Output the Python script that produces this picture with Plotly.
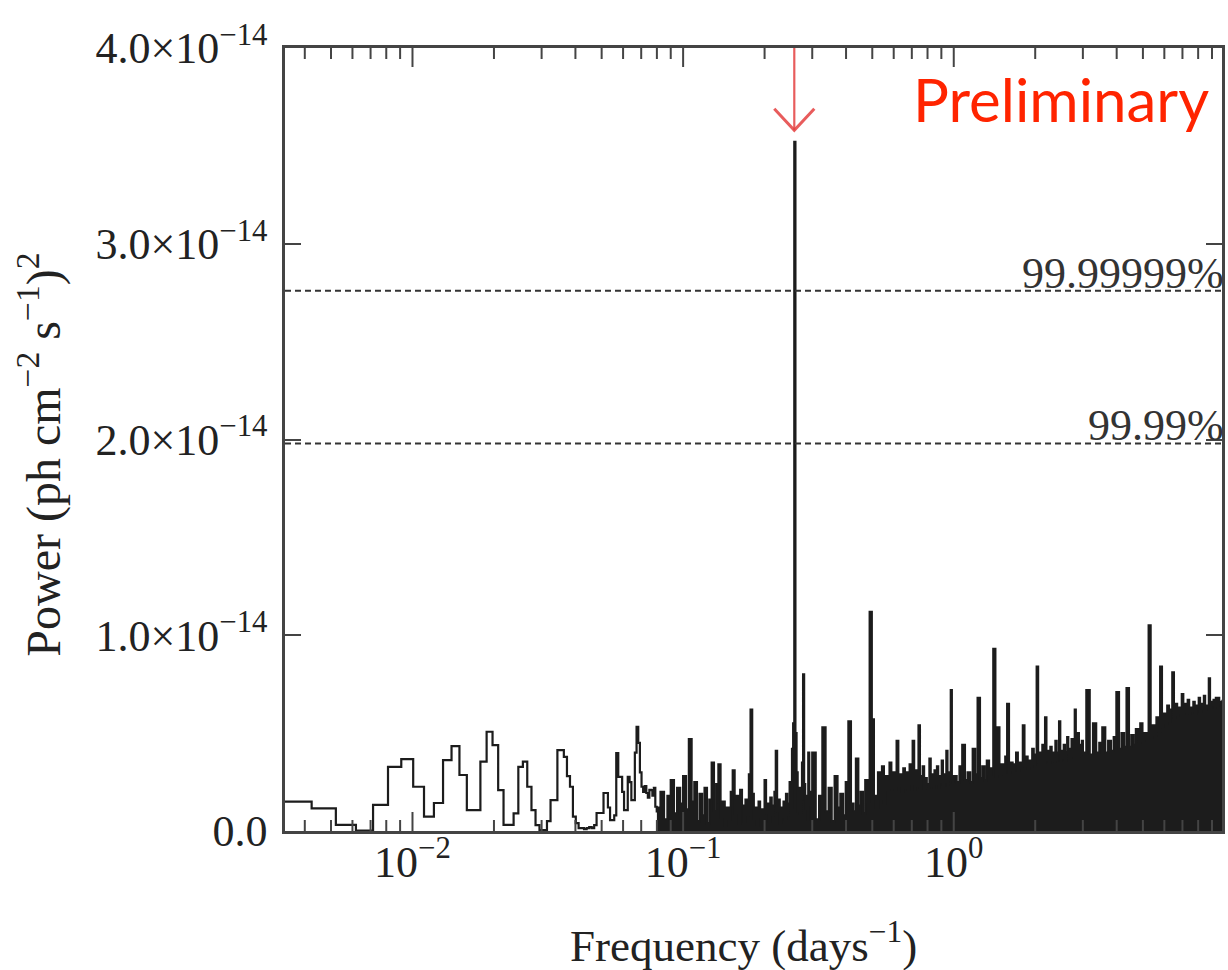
import numpy as np
import plotly.graph_objects as go

# Periodogram power, units of 1e-15 (ph cm^-2 s^-1)^2, on evenly spaced
# frequency bands: (start frequency [1/day], bin width [1/day], powers)
BAND_A_START, BAND_A_STEP = 0.00327, 0.00097
BAND_A = [1.5, 1.16, 0.31, 0.02, 1.33, 3.28, 3.67, 2.26, 0.73, 1.43,
          3.62, 4.34, 2.86, 1.07, 1.07, 3.54, 5.07, 4.39, 2.09, 0.31,
          0.31, 0.9, 3.28, 3.54, 2.26, 1.07, 0.3, 0.05, 0.05, 0.5,
          1.58, 1.58, 4.13, 4.13, 3.79, 2.8, 2.26, 0.73, 0.4, 0.15,
          0.15, 0.1, 0.15, 0.2, 0.15, 0.3, 0.92, 0.92, 0.92, 1.94,
          1.94, 1.2, 0.56, 0.56, 0.8, 3.98, 2.77, 2.77, 2.0, 1.07,
          1.07, 2.77, 2.5, 1.58, 1.58, 4.0, 5.32, 4.5, 3.0, 2.26,
          2.0, 2.3, 1.94, 1.7, 2.1, 2.09, 1.8, 2.2, 1.24, 1.0]

BAND_B_START, BAND_B_STEP = 0.080, 0.0025
BAND_B = [1.2, 2.0, 0.6, 1.8, 2.6, 0.9, 2.2, 1.4, 2.8, 1.1,
          4.7, 1.5, 2.5, 0.5, 1.9, 0.8, 2.2, 0.4, 1.6, 3.5,
          1.0, 2.4, 3.4, 0.7, 1.5, 0.3, 1.2, 0.6, 2.0, 3.1,
          0.9, 1.8, 0.4, 2.1, 1.3, 0.5, 1.6, 0.8, 2.9, 6.2,
          1.9, 0.6, 1.2, 0.3, 1.5, 0.7, 1.1, 0.4, 2.6, 0.9,
          1.4, 0.5, 1.7, 0.8, 1.3, 2.0, 4.1, 1.0, 1.6, 0.4,
          1.2, 0.7, 1.5, 0.6, 1.9, 0.8, 1.4, 2.5, 1.2, 4.2,
          5.5, 35.2, 5.0, 3.0, 1.0, 2.2, 0.9, 1.6, 3.5, 8.0,
          2.4, 1.1, 1.8, 0.6, 4.0, 1.3, 2.0, 0.7]

BAND_C_START, BAND_C_STEP = 0.300, 0.009
BAND_C = [4.0, 0.6, 1.8, 5.3, 1.0, 2.2, 0.5, 2.8, 1.2, 1.9,
          0.8, 2.5, 5.6, 1.4, 1.0, 3.7, 1.3, 2.0, 0.9, 2.6,
          1.5, 11.2, 5.7, 1.8, 1.2, 3.0, 1.6, 3.3, 1.4, 2.8,
          2.1, 3.5, 2.2, 3.0, 2.1, 4.6, 2.3, 2.9, 2.0, 3.2,
          2.2, 3.0, 2.1, 3.4, 2.4, 4.6, 2.1, 3.1, 2.3, 5.4,
          2.2, 2.8, 3.3, 2.1, 2.7, 2.4, 2.2, 3.7, 2.3, 2.9,
          2.2, 3.1, 2.4, 3.3, 2.2, 2.8, 2.5, 3.6, 2.3, 2.9,
          2.5, 4.1, 2.3, 3.0, 2.6, 7.2, 2.7, 2.5]

BAND_D_START, BAND_D_STEP = 1.00, 0.025
BAND_D = [2.8, 2.5, 3.3, 4.4, 2.6, 3.0, 2.5, 4.2, 2.9, 6.8,
          2.7, 3.3, 2.6, 3.6, 2.9, 3.2, 9.3, 2.8, 5.3, 2.9,
          3.4, 3.0, 3.8, 6.5, 3.0, 3.5, 3.1, 3.4, 4.0, 3.1,
          3.5, 3.2, 5.4, 3.3, 3.8, 3.2, 3.6, 3.3, 4.2, 3.4,
          3.9, 8.4, 3.5, 4.0, 3.5, 4.4, 3.5, 5.8, 3.6, 4.1,
          3.5, 4.3, 3.6, 4.0, 3.5, 4.6, 3.6, 4.0, 5.6, 3.6,
          4.1, 3.7, 4.4, 3.6, 4.0, 4.8, 3.7, 4.2, 3.7, 4.7,
          3.8, 4.3, 6.2, 3.8, 4.1, 5.0, 3.8, 4.4, 3.9, 4.6]

BAND_E_START, BAND_E_STEP = 3.00, 0.09
BAND_E = [4.0, 7.2, 3.9, 5.5, 4.0, 4.5, 5.3, 4.0, 4.6, 4.1,
          4.8, 7.1, 4.2, 5.0, 4.3, 7.3, 4.3, 4.9, 4.4, 5.2,
          4.5, 5.5, 4.6, 5.0, 4.7, 10.5, 4.8, 5.4, 4.9, 5.8,
          5.1, 8.4, 5.3, 6.0, 5.5, 6.4, 5.6, 6.2, 8.1, 5.8,
          6.5, 5.9, 6.3, 6.0, 7.0, 6.0, 6.5, 6.1, 6.7, 6.0,
          6.3, 6.1, 6.6, 6.0, 6.4, 6.2, 6.8, 6.1, 6.5, 6.2,
          6.9, 6.2, 6.4, 6.3, 7.8, 6.3, 6.6, 6.4, 6.7, 6.3,
          6.8, 6.4, 6.8, 6.5, 6.6, 6.4, 6.7]

# False-alarm significance levels, units of 1e-14
CONF_LEVELS = [2.76, 1.98]
CONF_LABELS = ["99.99999%", "99.99%"]

Y_TICKS = [0.0, 1.0, 2.0, 3.0, 4.0]          # units of 1e-14
X_MAJOR = [0.01, 0.1, 1.0]
X_MAJOR_TEXT = ["10<sup>−2</sup>", "10<sup>−1</sup>", "10<sup>0</sup>"]
X_MINOR = [m * d for d in (0.001, 0.01, 0.1, 1.0) for m in range(2, 10)]

bands = [(BAND_A_START, BAND_A_STEP, BAND_A),
         (BAND_B_START, BAND_B_STEP, BAND_B),
         (BAND_C_START, BAND_C_STEP, BAND_C),
         (BAND_D_START, BAND_D_STEP, BAND_D),
         (BAND_E_START, BAND_E_STEP, BAND_E)]

freq = np.concatenate([s + st * np.arange(len(v)) for s, st, v in bands])
power = np.concatenate([np.asarray(v, float) for _, _, v in bands]) * 1e-15

peak_i = int(np.argmax(power))
peak_f = freq[peak_i]

SERIF = "Liberation Serif, Times New Roman, serif"
INK = "#1c1c1c"
AXIS = "#444444"
F_MIN, F_MAX = 0.00338, 9.8
Y_MAX = 4.0e-14
PLOT_H_PX = 970 - 48 - 139

fig = go.Figure()

# the densely sampled part of the spectrum renders as a solid mass
dense = freq >= BAND_B_START
fig.add_trace(go.Scatter(
    x=freq[dense], y=power[dense], mode="lines", line_shape="hv",
    line=dict(width=0, color=INK), fill="tozeroy", fillcolor=INK,
    hoverinfo="skip", showlegend=False))

fig.add_trace(go.Scatter(
    x=freq, y=power, mode="lines", line_shape="hv",
    line=dict(width=2.2, color=INK), showlegend=False))

# significance levels
for lvl, lab in zip(CONF_LEVELS, CONF_LABELS):
    fig.add_shape(type="line", xref="x domain", yref="y",
                  x0=0, x1=1, y0=lvl * 1e-14, y1=lvl * 1e-14,
                  line=dict(color="#333333", width=2, dash="6px,4px"))
    fig.add_annotation(xref="x domain", yref="y", x=1.004, y=lvl * 1e-14,
                       xanchor="right", yanchor="bottom", yshift=-9,
                       text=lab, showarrow=False,
                       font=dict(family=SERIF, size=44, color="#333333"))


def tick_marks(values, length_px):
    """Inward tick marks on the bottom and top frame at the given frequencies."""
    dy = length_px / PLOT_H_PX * Y_MAX
    xs, ys = [], []
    for v in values:
        if F_MIN < v < F_MAX:
            xs += [v, v, None, v, v, None]
            ys += [0, dy, None, Y_MAX, Y_MAX - dy, None]
    return xs, ys


for vals, ln in ((X_MAJOR, 19), (X_MINOR, 11)):
    tx, ty = tick_marks(vals, ln)
    fig.add_trace(go.Scatter(x=tx, y=ty, mode="lines",
                             line=dict(color=AXIS, width=2),
                             hoverinfo="skip", showlegend=False))

# arrow marking the periodogram peak
arrow_red = "rgba(228, 64, 64, 0.85)"
tip_y, head_y = 3.58e-14, 3.69e-14
half = 10 ** 0.074
fig.add_trace(go.Scatter(x=[peak_f, peak_f], y=[Y_MAX, tip_y], mode="lines",
                         line=dict(color=arrow_red, width=2.2),
                         hoverinfo="skip", showlegend=False))
fig.add_trace(go.Scatter(x=[peak_f / half, peak_f, peak_f * half],
                         y=[head_y, tip_y, head_y], mode="lines",
                         line=dict(color=arrow_red, width=3),
                         hoverinfo="skip", showlegend=False))

fig.add_annotation(xref="paper", yref="paper", x=0.988, y=0.935,
                   xanchor="right", yanchor="middle", text="Preliminary",
                   showarrow=False,
                   font=dict(family="Lato, sans-serif", size=60, color="#ff2400"))

# axis titles
fig.add_annotation(xref="paper", yref="paper", x=0.489, y=-0.142,
                   xanchor="center", yanchor="middle",
                   text="Frequency (days<sup>−1</sup>)", showarrow=False,
                   font=dict(family=SERIF, size=45, color="#222222"))
fig.add_annotation(xref="paper", yref="paper", x=-0.262, y=0.48,
                   xanchor="center", yanchor="middle", textangle=-90,
                   text="Power (ph cm<sup>−2</sup> s<sup>−1</sup>)<sup>2</sup>",
                   showarrow=False,
                   font=dict(family=SERIF, size=48, color="#222222"))

tick_font = dict(family=SERIF, size=44, color="#222222")

fig.update_xaxes(
    type="log", range=[np.log10(F_MIN), np.log10(F_MAX)],
    tickmode="array", tickvals=X_MAJOR, ticktext=X_MAJOR_TEXT,
    ticks="", showline=True, linecolor=AXIS, linewidth=2.5, mirror=True,
    showgrid=False, zeroline=False, ticklabelstandoff=-10,
    tickfont=tick_font)

fig.update_yaxes(
    range=[0, Y_MAX], tickmode="array",
    tickvals=[t * 1e-14 for t in Y_TICKS],
    ticktext=["0.0"] + [f"{t:.1f}×10<sup>−14</sup>" for t in Y_TICKS[1:]],
    ticks="inside", ticklen=16, tickwidth=2, tickcolor=AXIS,
    showline=True, linecolor=AXIS, linewidth=2.5, mirror="ticks",
    showgrid=False, zeroline=False, ticklabelstandoff=6,
    tickfont=tick_font)

fig.update_layout(
    width=1228, height=970,
    margin=dict(l=285, r=3, t=48, b=139),
    paper_bgcolor="white", plot_bgcolor="white",
    showlegend=False)

fig.write_html("out.html")
